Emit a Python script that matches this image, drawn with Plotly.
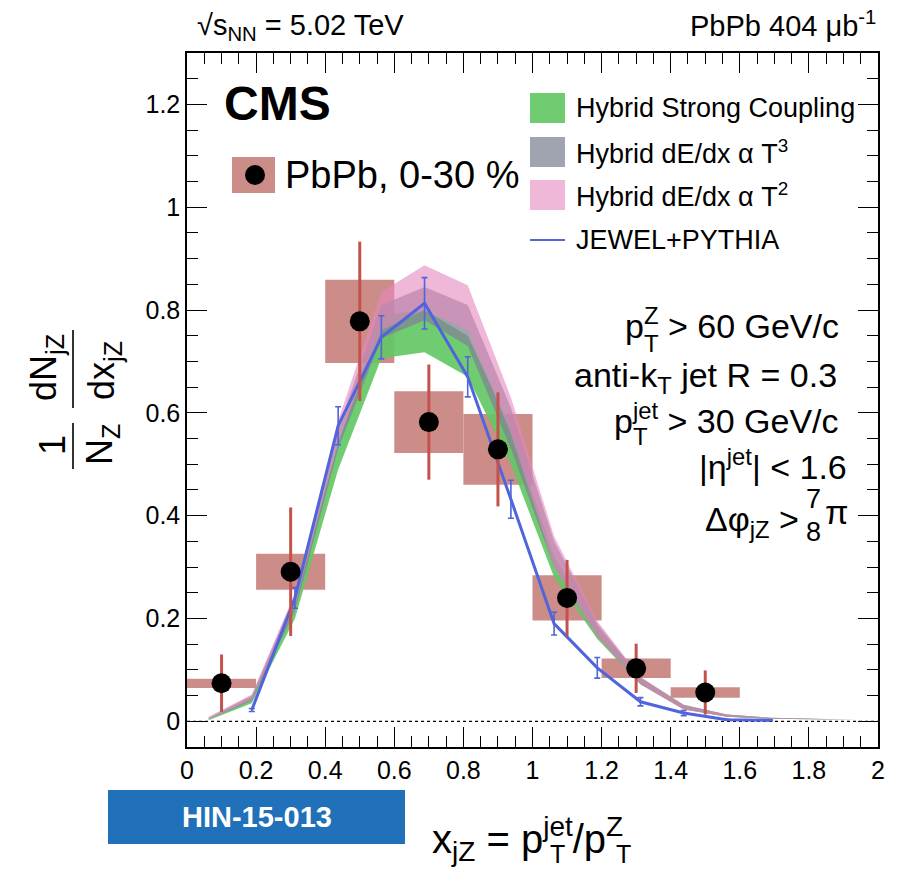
import plotly.graph_objects as go

# ---------------- data ----------------
xjz = [0.1, 0.3, 0.5, 0.7, 0.9, 1.1, 1.3, 1.5]
pbpb = [0.074, 0.291, 0.778, 0.582, 0.529, 0.240, 0.103, 0.056]
pbpb_stat = [0.056, 0.125, 0.155, 0.112, 0.111, 0.074, 0.048, 0.043]
pbpb_sys = [0.009, 0.035, 0.081, 0.060, 0.069, 0.044, 0.019, 0.010]
bin_width = 0.2

xm = [0.0625, 0.1875, 0.3125, 0.4375, 0.5625, 0.6875, 0.8125, 0.9375,
      1.0625, 1.1875, 1.3125, 1.4375, 1.5625, 1.6875, 1.8125, 1.9375]
strong_lo = [0.002, 0.035, 0.200, 0.490, 0.706, 0.718, 0.670, 0.500,
             0.280, 0.160, 0.072, 0.024, 0.009, 0.005, 0.004, 0.003]
strong_hi = [0.004, 0.046, 0.235, 0.540, 0.790, 0.800, 0.750, 0.570,
             0.320, 0.185, 0.085, 0.032, 0.013, 0.007, 0.005, 0.004]
t3_lo = [0.004, 0.040, 0.215, 0.530, 0.745, 0.780, 0.730, 0.530,
         0.300, 0.165, 0.072, 0.023, 0.009, 0.005, 0.004, 0.003]
t3_hi = [0.007, 0.050, 0.245, 0.570, 0.810, 0.845, 0.810, 0.610,
         0.350, 0.190, 0.085, 0.031, 0.013, 0.007, 0.005, 0.004]
t2_lo = [0.005, 0.042, 0.225, 0.545, 0.760, 0.800, 0.760, 0.560,
         0.300, 0.165, 0.072, 0.023, 0.009, 0.005, 0.004, 0.003]
t2_hi = [0.009, 0.052, 0.250, 0.585, 0.835, 0.887, 0.848, 0.630,
         0.360, 0.195, 0.086, 0.032, 0.013, 0.007, 0.005, 0.004]

xj = [0.1875, 0.3125, 0.4375, 0.5625, 0.6875, 0.8125, 0.9375,
      1.0625, 1.1875, 1.3125, 1.4375, 1.5625, 1.6875]
jewel = [0.022, 0.240, 0.575, 0.747, 0.813, 0.670, 0.432,
         0.190, 0.104, 0.038, 0.016, 0.003, 0.002]
jewel_err = [0.003, 0.020, 0.037, 0.042, 0.050, 0.039, 0.037,
             0.022, 0.020, 0.008, 0.005, 0.001, 0.001]

x_ticks = [0, 0.2, 0.4, 0.6, 0.8, 1, 1.2, 1.4, 1.6, 1.8, 2]
y_ticks = [0, 0.2, 0.4, 0.6, 0.8, 1, 1.2]

# ---------------- style ----------------
FONT = "Liberation Sans, Arial, Helvetica, sans-serif"
SYS_COL = "rgb(204,140,136)"
STAT_COL = "rgb(196,82,76)"
GREEN = "rgba(100,200,100,0.92)"
GRAY = "rgba(128,132,150,0.75)"
PINK = "rgba(230,137,190,0.6)"
BLUE = "rgb(80,100,220)"

W, H = 901, 872
L, R, T, B = 187, 878, 53, 747


def pxp(x):
    return (x - L) / (R - L)


def pyp(y):
    return (B - y) / (B - T)


fig = go.Figure()

# systematic boxes
fig.add_trace(go.Bar(
    x=xjz, y=[2 * s for s in pbpb_sys],
    base=[v - s for v, s in zip(pbpb, pbpb_sys)],
    width=bin_width, marker=dict(color=SYS_COL, line=dict(width=0)),
    showlegend=False, hoverinfo="skip"))


def band(lo, hi, color):
    fig.add_trace(go.Scatter(
        x=xm + xm[::-1], y=hi + lo[::-1], fill="toself", fillcolor=color,
        mode="lines", line=dict(width=0, color=color), showlegend=False,
        hoverinfo="skip"))


band(strong_lo, strong_hi, GREEN)
band(t3_lo, t3_hi, GRAY)
band(t2_lo, t2_hi, PINK)

fig.add_trace(go.Scatter(
    x=xj, y=jewel, mode="lines", line=dict(color=BLUE, width=3),
    error_y=dict(type="data", array=jewel_err, color=BLUE, thickness=1.6, width=3),
    showlegend=False))

fig.add_trace(go.Scatter(
    x=xjz, y=pbpb, mode="markers",
    marker=dict(color="black", size=20, symbol="circle"),
    error_y=dict(type="data", array=pbpb_stat, color=STAT_COL, thickness=3, width=0),
    showlegend=False))

# zero line
fig.add_shape(type="line", xref="x", yref="y", x0=0, x1=2, y0=0, y1=0,
              line=dict(color="black", width=1.2, dash="dot"), layer="below")

axis_common = dict(
    showline=True, linecolor="black", linewidth=1.5, mirror="allticks",
    ticks="inside", ticklen=20, tickwidth=1.3, tickcolor="black",
    showgrid=False, zeroline=False,
    tickfont=dict(family=FONT, size=25, color="black"),
)
fig.update_xaxes(range=[0, 2], tickvals=x_ticks,
                 ticktext=[("%g" % v) for v in x_ticks],
                 minor=dict(dtick=0.05, tick0=0, ticks="inside", ticklen=11,
                            tickwidth=1.2, tickcolor="black"),
                 **axis_common)
fig.update_yaxes(range=[-0.05, 1.3], tickvals=y_ticks,
                 ticktext=[("%g" % v) for v in y_ticks],
                 minor=dict(dtick=0.05, tick0=0, ticks="inside", ticklen=11,
                            tickwidth=1.2, tickcolor="black"),
                 **axis_common)

ann = []


def A(text, x, y, size, xanchor="left", yanchor="middle", color="black", angle=0):
    ann.append(dict(text=text, x=pxp(x), y=pyp(y), xref="paper", yref="paper",
                    showarrow=False, xanchor=xanchor, yanchor=yanchor,
                    textangle=angle, font=dict(family=FONT, size=size, color=color)))


shapes = []


def rect(x0, y0, x1, y1, color):
    shapes.append(dict(type="rect", xref="paper", yref="paper",
                       x0=pxp(x0), x1=pxp(x1), y0=pyp(y1), y1=pyp(y0),
                       fillcolor=color, line=dict(width=0)))


def line(x0, y0, x1, y1, color="black", width=1.5):
    shapes.append(dict(type="line", xref="paper", yref="paper",
                       x0=pxp(x0), x1=pxp(x1), y0=pyp(y0), y1=pyp(y1),
                       line=dict(color=color, width=width)))


# header
A("√s<sub>NN</sub> = 5.02 TeV", 195, 27, 29)
line(206, 13, 256, 13, width=1.5)
A("PbPb 404 μb<sup>-1</sup>", 878, 24, 29, xanchor="right")

# CMS
A("<b>CMS</b>", 222, 104, 48)

# PbPb legend
rect(232, 157, 275, 193, SYS_COL)
shapes.append(dict(type="circle", xref="paper", yref="paper",
                   x0=pxp(245), x1=pxp(265), y0=pyp(185), y1=pyp(165),
                   fillcolor="black", line=dict(width=0)))
A("PbPb, 0-30 %", 283, 175, 38)

# model legend
rows = [108, 152, 195, 240]
for yy, col in zip(rows[:3], [GREEN, GRAY, PINK]):
    rect(530, yy - 15, 565, yy + 15, col)
line(530, rows[3], 565, rows[3], color=BLUE, width=2)
A("Hybrid Strong Coupling", 574, rows[0], 27)
A("Hybrid dE/dx α T<sup>3</sup>", 574, rows[1], 27)
A("Hybrid dE/dx α T<sup>2</sup>", 574, rows[2], 27)
A("JEWEL+PYTHIA", 574, rows[3], 27)

# selection text
A("p<sup>Z</sup> > 60 GeV/c", 623, 323, 34)
A("T", 642, 343, 24)
A("anti-k<sub>T</sub> jet R = 0.3", 572, 377, 34)
A("p<sup>jet</sup> > 30 GeV/c", 612, 418, 34)
A("T", 631, 437, 24)
A("|η<sup>jet</sup>| < 1.6", 697, 464, 34)
A("Δφ<sub>jZ</sub> >", 703, 521, 34)
A("7", 813, 499, 27, xanchor="center")
A("8", 813, 532, 27, xanchor="center")
A("π", 823, 512, 34)

# y title
A("dN<sub>jZ</sub>", 46, 368, 36, xanchor="center", angle=-90)
A("dx<sub>jZ</sub>", 104, 371, 36, xanchor="center", angle=-90)
line(73, 330, 73, 408, width=1.6)
A("1", 52, 445, 36, xanchor="center", angle=-90)
A("N<sub>Z</sub>", 102, 445, 36, xanchor="center", angle=-90)
line(73, 423, 73, 469, width=1.6)

# x title
A("x<sub>jZ</sub> = p<sup>jet</sup>/p<sup>Z</sup>", 430, 839, 40)
A("T", 548, 854, 25)
A("T", 614, 854, 25)

# HIN box
rect(108, 790, 405, 844, "rgb(32,112,186)")
A("<b>HIN-15-013</b>", 257, 817, 29, xanchor="center", color="white")

fig.update_layout(
    width=W, height=H,
    margin=dict(l=L, r=W - R, t=T, b=H - B, pad=0),
    paper_bgcolor="white", plot_bgcolor="white",
    showlegend=False, barmode="overlay",
    annotations=ann, shapes=shapes,
    font=dict(family=FONT),
)

fig.write_html("out.html")
